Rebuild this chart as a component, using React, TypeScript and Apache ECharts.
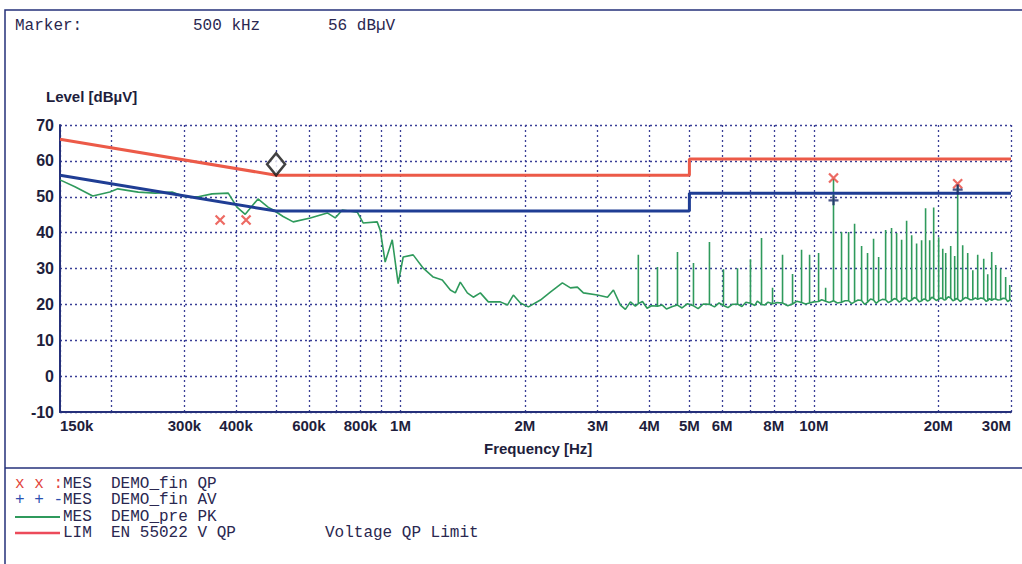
import React, { useEffect, useRef } from 'react';
import * as echarts from 'echarts';

// X axis tick labels (frequency, MHz) and grid lines
const tickFreqMHz = [0.15, 0.3, 0.4, 0.6, 0.8, 1, 2, 3, 4, 5, 6, 8, 10, 20, 30];
const tickLabels = ['150k', '300k', '400k', '600k', '800k', '1M', '2M', '3M', '4M', '5M', '6M', '8M', '10M', '20M', '30M'];
const gridFreqMHz = [0.15, 0.2, 0.3, 0.4, 0.5, 0.6, 0.7, 0.8, 0.9, 1, 2, 3, 4, 5, 6, 7, 8, 9, 10, 20, 30];

// Limits (EN 55022 V QP / AV)
const qpLimitFreq = [0.15, 0.5, 5, 5, 30];
const qpLimitLevel = [66, 56, 56, 60.5, 60.5];
const avLimitFreq = [0.15, 0.5, 5, 5, 30];
const avLimitLevel = [56, 46, 46, 51, 51];

// Peak pre-scan trace (MHz, dBuV)
const pkFreqMHz = [
  0.150, 0.163, 0.180, 0.198, 0.207, 0.232, 0.255, 0.280, 0.301, 0.324, 0.350, 0.383, 0.402, 0.421, 0.452,
  0.478, 0.492, 0.520, 0.550, 0.605, 0.665, 0.695, 0.723, 0.786, 0.812, 0.878, 0.893, 0.918, 0.955, 0.987,
  1.015, 1.073, 1.135, 1.200, 1.262, 1.320, 1.357, 1.395, 1.451, 1.500, 1.560, 1.631, 1.744, 1.814, 1.875,
  1.950, 2.039, 2.180, 2.304, 2.464, 2.577, 2.679, 2.770, 2.995, 3.168, 3.275, 3.405, 3.500, 3.600,
  3.70, 3.85, 3.95, 4.05, 4.30, 4.40, 4.55, 4.80, 4.95, 5.25, 5.40, 5.75, 5.90, 6.20, 6.35, 6.70, 6.85,
  7.20, 7.30, 7.60, 7.75, 8.15, 8.65, 9.10, 9.55, 10.0, 10.45, 10.9, 11.4, 11.9, 12.35, 12.8, 13.27, 13.72,
  14.15, 14.65, 15.15, 15.65, 16.1, 16.55, 17.0, 17.5, 18.0, 18.45, 18.85, 19.3, 19.78, 20.3, 20.7, 21.15,
  21.7, 22.1, 22.6, 23.25, 23.9, 24.6, 25.35, 26.1, 26.6, 27.25, 27.9, 28.7, 29.45, 30.0,
];
const pkLevel = [
  54.7, 52.8, 50.2, 51.3, 52.2, 51.3, 51.0, 51.3, 50.0, 50.0, 50.8, 51.0, 47.1, 45.1, 49.4,
  47.1, 46.3, 44.5, 43.0, 44.1, 45.5, 44.1, 46.3, 45.7, 42.7, 43.0, 40.7, 31.8, 38.0, 25.8,
  33.2, 33.8, 30.1, 27.6, 26.8, 24.0, 23.2, 26.2, 23.2, 22.0, 23.2, 20.7, 20.7, 19.8, 22.6,
  20.4, 19.3, 21.2, 23.4, 26.0, 24.6, 24.8, 23.2, 22.6, 22.0, 24.0, 19.8, 18.6, 20.7,
  19.5, 20.8, 18.9, 19.6, 19.8, 18.7, 19.4, 19.0, 20.2, 18.8, 20.1, 19.3, 20.4, 19.1, 20.0, 19.4, 20.6,
  19.7, 20.9, 19.8, 20.6, 20.5, 19.6, 20.9, 20.1, 20.7, 21.3, 20.5, 20.4, 21.0, 20.2, 21.2, 20.0, 21.5,
  20.3, 21.4, 20.5, 21.6, 20.6, 21.8, 20.8, 21.9, 20.7, 21.5, 20.9, 22.0, 21.1, 21.8, 21.2, 22.1,
  21.0, 21.6, 20.8, 21.9, 21.3, 21.8, 21.8, 20.9, 21.6, 21.5, 21.2, 21.7, 20.8, 21.3,
];

// Harmonic spikes in the peak trace
const spikeFreqMHz = [
  3.762, 4.185, 4.679, 5.115, 5.591, 6.045, 6.537, 7.026, 7.473, 7.946, 8.401, 8.883, 9.340, 9.767, 10.27,
  10.68, 11.16, 11.67, 12.14, 12.55, 13.05, 13.49, 13.95, 14.35, 14.92, 15.42, 15.86, 16.31, 16.77, 17.25,
  17.73, 18.23, 18.64, 19.07, 19.50, 20.05, 20.51, 20.85, 21.44, 21.92, 22.29, 22.92, 23.57, 24.25, 24.92,
  25.77, 26.35, 26.94, 27.55, 28.32, 29.12, 29.79,
];
const spikeTop = [
  33.8, 30.4, 34.6, 31.5, 37.4, 29.8, 30.1, 32.6, 38.5, 24.6, 33.8, 28.5, 35.2, 33.8, 34.3,
  24.6, 55.0, 40.2, 40.2, 42.5, 36.3, 34.3, 38.3, 33.2, 40.7, 41.3, 39.9, 38.0, 43.3, 39.3,
  37.0, 37.9, 46.8, 37.9, 47.0, 38.7, 35.5, 34.3, 36.3, 33.5, 53.5, 36.5, 34.3, 29.5, 33.8,
  32.7, 28.4, 34.6, 31.0, 30.0, 27.6, 25.4,
];
const spikeBase = [
  20.2, 19.5, 19.8, 19.6, 20.0, 19.7, 20.1, 20.3, 20.0, 20.2, 20.4, 20.1, 20.5, 20.4, 20.8,
  20.9, 21.0, 20.6, 21.0, 20.7, 21.1, 20.6, 21.2, 20.9, 21.3, 21.0, 21.4, 21.1, 21.5, 21.2,
  21.6, 21.0, 21.4, 21.2, 21.7, 21.4, 21.6, 21.3, 21.8, 21.2, 21.5, 21.3, 21.7, 21.3, 21.4,
  21.6, 21.0, 21.1, 21.5, 21.3, 21.6, 21.2,
];

// Final measurements
const qpMesFreq = [0.366, 0.423, 11.16, 22.29];
const qpMesLevel = [43.5, 43.5, 55.2, 53.6];
const avMesFreq = [11.16, 22.29];
const avMesLevel = [49.0, 52.0];

// Marker
const markerFreqMHz = 0.5;
const markerLevel = 56;

const NAVY = '#25307a';
const TXT = '#2a2750';
const MONO = "'Liberation Mono', 'DejaVu Sans Mono', monospace";

export default function App() {
  const ref = useRef<HTMLDivElement>(null);
  useEffect(() => {
    const chart = echarts.init(ref.current!, null, { renderer: 'svg' });
    const lx = (mhz: number) => Math.log10(mhz * 1e6);

    const items: { f: number; seq: number[][] }[] = [];
    pkFreqMHz.forEach((f, i) => items.push({ f, seq: [[lx(f), pkLevel[i]]] }));
    spikeFreqMHz.forEach((f, i) =>
      items.push({ f, seq: [[lx(f), spikeBase[i]], [lx(f), spikeTop[i]], [lx(f), spikeBase[i]]] })
    );
    items.sort((a, b) => a.f - b.f);
    const pkData: number[][] = [];
    items.forEach((it) => it.seq.forEach((p) => pkData.push(p)));

    const labelFor = (v: number) => {
      for (let i = 0; i < tickFreqMHz.length; i++) {
        if (Math.abs(lx(tickFreqMHz[i]) - v) < 1e-6) return tickLabels[i];
      }
      return '';
    };

    const monoText = (x: number, y: number, text: string, fill: string) => ({
      type: 'text',
      x,
      y,
      style: { text, fill, font: `16px ${MONO}`, textVerticalAlign: 'middle', verticalAlign: 'middle' },
    });

    const option: any = {
      animation: false,
      backgroundColor: '#ffffff',
      grid: { left: 60, right: 11, top: 125, bottom: 152 },
      xAxis: {
        type: 'value',
        min: lx(0.15),
        max: lx(30),
        axisLine: { show: true, onZero: false, lineStyle: { color: NAVY, width: 2 } },
        axisTick: { show: false, customValues: gridFreqMHz.map(lx) },
        splitLine: { show: true, lineStyle: { color: '#3a3f96', width: 1.3, type: [2, 3] } },
        axisLabel: {
          customValues: tickFreqMHz.map(lx),
          formatter: (v: number) => labelFor(v),
          fontFamily: "'Liberation Sans', Arial, sans-serif",
          fontWeight: 'bold',
          fontSize: 15,
          color: '#1e1e3c',
          margin: 6,
          alignMinLabel: 'left',
          alignMaxLabel: 'right',
        },
      },
      yAxis: {
        type: 'value',
        min: -10,
        max: 70,
        interval: 10,
        axisLine: { show: true, onZero: false, lineStyle: { color: NAVY, width: 2 } },
        axisTick: { show: false },
        splitLine: { show: true, lineStyle: { color: '#3a3f96', width: 1.3, type: [2, 3] } },
        axisLabel: {
          fontFamily: "'Liberation Sans', Arial, sans-serif",
          fontWeight: 'bold',
          fontSize: 16,
          color: '#1e1e3c',
          margin: 6,
        },
      },
      series: [
        {
          name: 'DEMO_pre PK',
          type: 'line',
          data: pkData,
          showSymbol: false,
          lineStyle: { color: '#2f9a5c', width: 1.6 },
          z: 2,
        },
        {
          name: 'EN 55022 V QP',
          type: 'line',
          data: qpLimitFreq.map((f, i) => [lx(f), qpLimitLevel[i]]),
          showSymbol: false,
          lineStyle: { color: '#ec5a48', width: 3 },
          z: 3,
        },
        {
          name: 'EN 55022 V AV',
          type: 'line',
          data: avLimitFreq.map((f, i) => [lx(f), avLimitLevel[i]]),
          showSymbol: false,
          lineStyle: { color: '#1f3d94', width: 3 },
          z: 3,
        },
        {
          name: 'DEMO_fin QP',
          type: 'scatter',
          data: qpMesFreq.map((f, i) => [lx(f), qpMesLevel[i]]),
          symbol: 'path://M0,0L10,10M10,0L0,10',
          symbolSize: 9,
          itemStyle: { color: 'none', borderColor: '#e8453c', borderWidth: 2.2 },
          z: 5,
        },
        {
          name: 'DEMO_fin AV',
          type: 'scatter',
          data: avMesFreq.map((f, i) => [lx(f), avMesLevel[i]]),
          symbol: 'path://M5,0L5,10M0,5L10,5',
          symbolSize: 10,
          itemStyle: { color: 'none', borderColor: '#1c2a6a', borderWidth: 2.4 },
          z: 5,
        },
        {
          name: 'Marker',
          type: 'scatter',
          data: [[lx(markerFreqMHz), markerLevel]],
          symbol: 'diamond',
          symbolSize: [18, 22],
          symbolOffset: [0, -11],
          itemStyle: { color: '#ffffff', borderColor: '#111111', borderWidth: 2.5 },
          z: 6,
        },
      ],
      graphic: [
        {
          type: 'rect',
          shape: { x: 5, y: 10, width: 1022, height: 570 },
          style: { fill: 'none', stroke: NAVY, lineWidth: 1.5 },
          silent: true,
        },
        {
          type: 'line',
          shape: { x1: 5, y1: 468, x2: 1022, y2: 468 },
          style: { stroke: NAVY, lineWidth: 1.5 },
          silent: true,
        },
        monoText(15, 26, 'Marker:', TXT),
        monoText(193, 26, '500 kHz', TXT),
        monoText(328, 26, '56 dBµV', TXT),
        {
          type: 'text',
          x: 46,
          y: 96,
          style: {
            text: 'Level [dBµV]',
            fill: '#1e1e3c',
            font: "bold 15px 'Liberation Sans', Arial, sans-serif",
            textVerticalAlign: 'middle',
            verticalAlign: 'middle',
          },
        },
        {
          type: 'text',
          x: 484,
          y: 448,
          style: {
            text: 'Frequency [Hz]',
            fill: '#1e1e3c',
            font: "bold 15px 'Liberation Sans', Arial, sans-serif",
            textVerticalAlign: 'middle',
            verticalAlign: 'middle',
          },
        },
        monoText(15, 484, 'x x :', '#e2453c'),
        monoText(63, 484, 'MES  DEMO_fin QP', TXT),
        monoText(15, 500, '+ + -', '#2b4fb0'),
        monoText(63, 500, 'MES  DEMO_fin AV', TXT),
        {
          type: 'line',
          shape: { x1: 15, y1: 517, x2: 60, y2: 517 },
          style: { stroke: '#2f9a5c', lineWidth: 2 },
        },
        monoText(63, 517, 'MES  DEMO_pre PK', TXT),
        {
          type: 'line',
          shape: { x1: 15, y1: 533, x2: 60, y2: 533 },
          style: { stroke: '#ec4a5a', lineWidth: 2.5 },
        },
        monoText(63, 533, 'LIM  EN 55022 V QP', TXT),
        monoText(325, 533, 'Voltage QP Limit', TXT),
      ],
    };

    chart.setOption(option);
    return () => chart.dispose();
  }, []);

  return (
    <div
      ref={ref}
      style={{ position: 'fixed', left: 0, top: 0, width: 1022, height: 564, background: '#ffffff' }}
    />
  );
}
